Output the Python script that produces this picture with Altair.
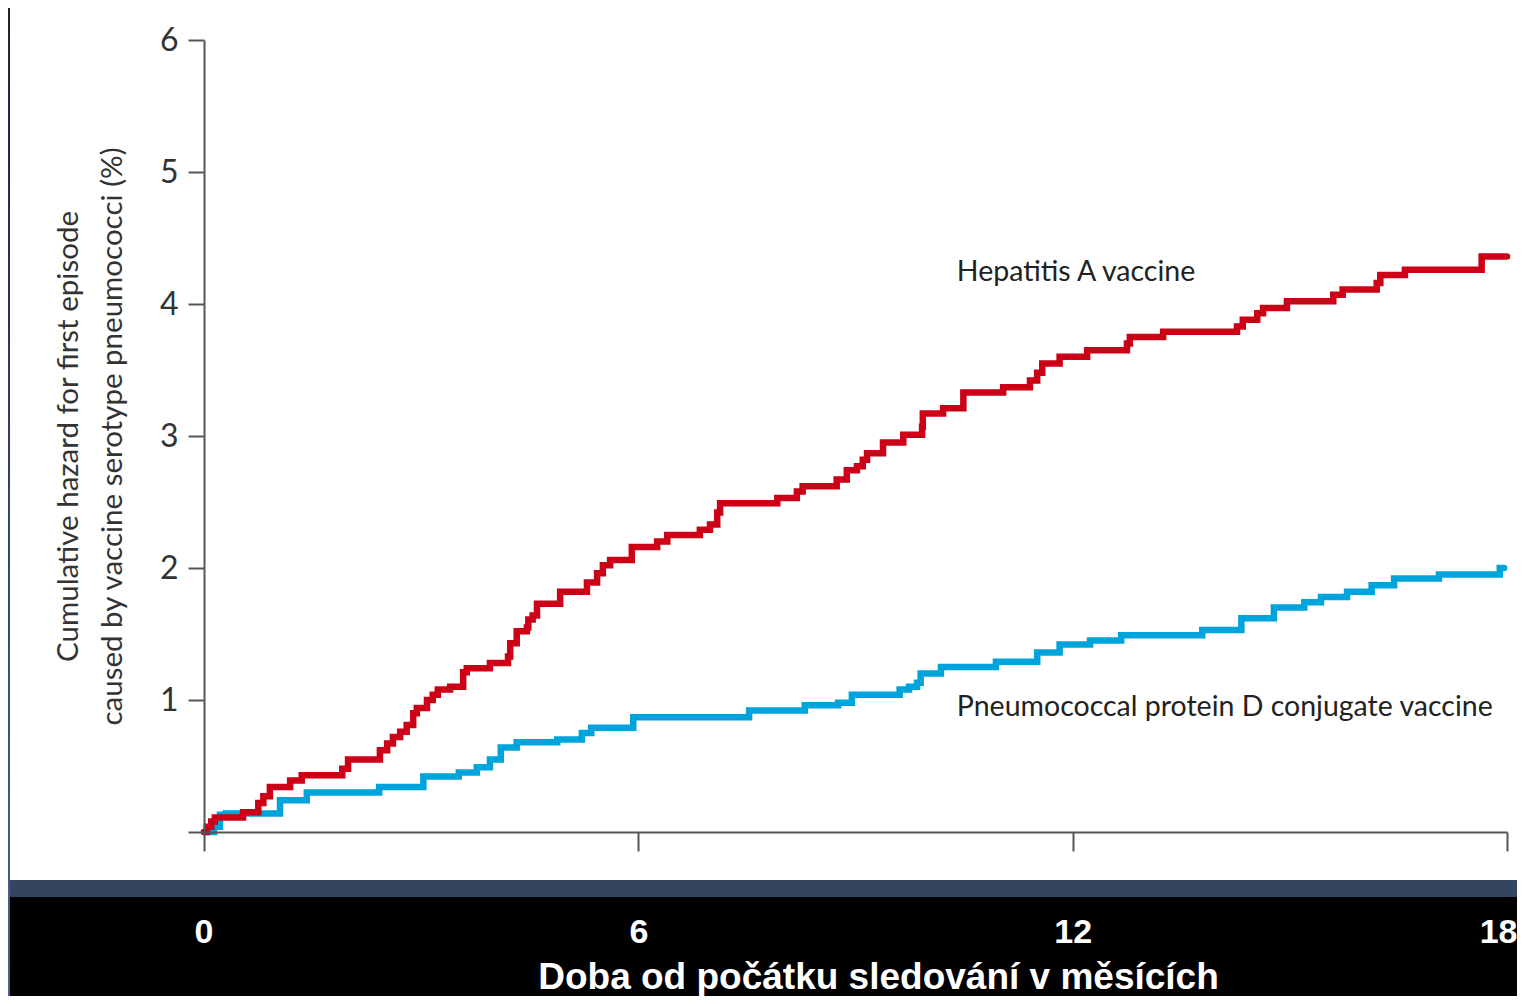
import altair as alt
import pandas as pd

# Cumulative hazard step curves (months, %)
red_months = [0, 0.04, 0.10, 0.15, 0.54, 0.75, 0.82, 0.91, 1.19, 1.35, 1.91, 1.99, 2.43, 2.53, 2.61,
              2.71, 2.80, 2.89, 2.94, 3.08, 3.16, 3.23, 3.40, 3.58, 3.63, 3.95, 4.20, 4.23, 4.32,
              4.46, 4.48, 4.54, 4.60, 4.92, 5.29, 5.43, 5.51, 5.61, 5.91, 6.26, 6.40, 6.85, 6.99,
              7.09, 7.13, 7.92, 8.19, 8.27, 8.74, 8.88, 9.02, 9.10, 9.16, 9.38, 9.66, 9.92, 9.93,
              10.21, 10.49, 11.04, 11.41, 11.51, 11.58, 11.82, 12.20, 12.75, 12.79, 13.25, 14.27,
              14.35, 14.55, 14.63, 14.96, 15.60, 15.73, 16.20, 16.25, 16.59, 17.65, 18.0]
red_values = [0, 0.04, 0.08, 0.11, 0.15, 0.22, 0.27, 0.34, 0.39, 0.43, 0.48, 0.55, 0.62, 0.67, 0.72,
              0.76, 0.81, 0.90, 0.94, 1.00, 1.04, 1.08, 1.10, 1.21, 1.24, 1.28, 1.33, 1.43, 1.52,
              1.55, 1.61, 1.64, 1.73, 1.82, 1.89, 1.96, 2.02, 2.06, 2.16, 2.20, 2.25, 2.29, 2.33,
              2.42, 2.49, 2.53, 2.58, 2.62, 2.67, 2.74, 2.77, 2.82, 2.87, 2.95, 3.01, 3.07, 3.17,
              3.21, 3.33, 3.37, 3.42, 3.48, 3.55, 3.60, 3.65, 3.70, 3.75, 3.79, 3.83,
              3.88, 3.93, 3.97, 4.02, 4.07, 4.11, 4.16, 4.22, 4.26, 4.36, 4.36]

blue_months = [0, 0.14, 0.22, 0.30, 1.05, 1.42, 2.42, 3.03, 3.52, 3.77, 3.95, 4.10, 4.32, 4.88,
               5.22, 5.35, 5.93, 7.53, 8.30, 8.76, 8.95, 9.61, 9.74, 9.85, 9.90, 10.18, 10.94,
               11.51, 11.82, 12.24, 12.67, 13.79, 14.33, 14.78, 15.20, 15.43, 15.79, 16.13,
               16.44, 17.06, 17.90, 17.96]
blue_values = [0, 0.04, 0.13, 0.14, 0.24, 0.30, 0.34, 0.42, 0.45, 0.49, 0.55, 0.64, 0.68, 0.70,
               0.75, 0.79, 0.87, 0.92, 0.96, 0.98, 1.04, 1.08, 1.10, 1.13, 1.20, 1.25, 1.29,
               1.36, 1.42, 1.45, 1.49, 1.53, 1.62, 1.70, 1.74, 1.78, 1.82, 1.87,
               1.92, 1.95, 2.00, 2.00]

series_names = ["Hepatitis A vaccine", "Pneumococcal protein D conjugate vaccine"]
label_months = [10.40, 10.40]
label_values = [4.24, 0.95]

x_ticks = [0, 6, 12, 18]
y_ticks = [0, 1, 2, 3, 4, 5, 6]

red_df = pd.DataFrame({"month": red_months, "value": red_values})
blue_df = pd.DataFrame({"month": blue_months, "value": blue_values})
lab_df = pd.DataFrame({"name": series_names, "month": label_months, "value": label_values})

xscale = alt.Scale(domain=[0, 18], nice=False, zero=False)
yscale = alt.Scale(domain=[0, 6], nice=False)

xaxis = alt.Axis(
    values=x_ticks, grid=False, format="d", zindex=2,
    domainColor="#555555", domainWidth=2, tickColor="#555555", tickWidth=2, tickSize=19,
    labelColor="white", labelFont="Liberation Sans", labelFontWeight="bold", labelFontSize=34,
    labelBaseline="middle", labelPadding=81, labelFlush=True, labelFlushOffset=10,
    title="Doba od počátku sledování v měsících", titleColor="white", titleFont="Liberation Sans",
    titleFontWeight="bold", titleFontSize=37, titleX=674, titleY=145, titleBaseline="middle",
    titleAlign="center",
)
yaxis = alt.Axis(
    values=y_ticks, grid=False, format="d", zindex=1,
    labelExpr="datum.value == 0 ? '' : datum.label",
    domainColor="#555555", domainWidth=2, tickColor="#555555", tickWidth=2, tickSize=16,
    labelColor="#333333", labelFont="Lato", labelFontSize=32, labelPadding=10,
    title=["Cumulative hazard for first episode", "caused by vaccine serotype pneumococci (%)"],
    titleColor="#333333", titleFont="Lato", titleFontWeight="normal", titleFontSize=29.5,
    titleAngle=270, titleX=-136, titleY=396, titleBaseline="middle", titleAlign="center",
    titleLineHeight=44,
)

panel = alt.Chart(pd.DataFrame({"k": [0]})).mark_rect(color="white").encode(
    x=alt.value(-194), x2=alt.value(1321), y=alt.value(-32), y2=alt.value(840))
band = alt.Chart(pd.DataFrame({"k": [0]})).mark_rect(color="#34455f").encode(
    x=alt.value(-194), x2=alt.value(1321), y=alt.value(840), y2=alt.value(857))
strip = alt.Chart(pd.DataFrame({"k": [0]})).mark_rect(
    fill=alt.Gradient(gradient="linear", x1=0, x2=0, y1=0, y2=1,
                      stops=[alt.GradientStop(offset=0, color="#1c2333"),
                             alt.GradientStop(offset=1, color="#4a6292")])
).encode(x=alt.value(-196), x2=alt.value(-194), y=alt.value(-32), y2=alt.value(956))

blue_line = alt.Chart(blue_df).mark_line(
    interpolate="step-after", color="#00a4dc", strokeWidth=6.5, strokeJoin="miter", strokeCap="round"
).encode(x=alt.X("month:Q", scale=xscale, axis=xaxis), y=alt.Y("value:Q", scale=yscale, axis=yaxis))

red_line = alt.Chart(red_df).mark_line(
    interpolate="step-after", color="#cc0016", strokeWidth=6.5, strokeJoin="miter", strokeCap="round"
).encode(x=alt.X("month:Q", scale=xscale, axis=xaxis), y=alt.Y("value:Q", scale=yscale, axis=yaxis))

labels = alt.Chart(lab_df).mark_text(
    align="left", baseline="middle", font="Lato", fontSize=28.5, color="#222222"
).encode(x=alt.X("month:Q", scale=xscale), y=alt.Y("value:Q", scale=yscale), text="name:N")

chart = alt.layer(panel, band, strip, blue_line, red_line, labels).properties(
    width=1303, height=792,
    autosize=alt.AutoSizeParams(type="none"),
    padding={"left": 196, "top": 32, "right": 10, "bottom": 164},
    background="black",
).configure_view(stroke=None)

chart.save("out.html", embed_options={"renderer": "svg", "actions": False})
